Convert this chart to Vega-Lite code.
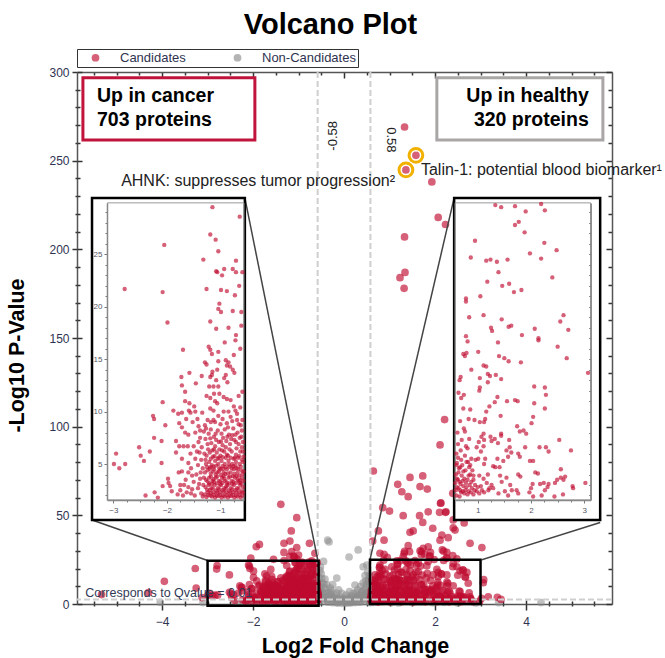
{"$schema":"https://vega.github.io/schema/vega-lite/v6.json","width":535,"height":532,"autosize":{"type":"none"},"padding":{"left":77,"top":72,"right":53,"bottom":54},"background":"white","config":{"font":"Liberation Sans","view":{"stroke":null}},"title":{"text":"Volcano Plot","fontSize":29,"fontWeight":"bold","color":"#000","anchor":"middle","dx":-14,"offset":9,"font":"Liberation Sans"},
"resolve":{"scale":{"x":"independent","y":"independent"},"axis":{"x":"independent","y":"independent"}},
"datasets":{
"grey":[{"x":-0.36,"y":36},{"x":-0.33,"y":35},{"x":0.11,"y":26.5},{"x":0.31,"y":30.5},{"x":0.42,"y":21},{"x":-0.16,"y":14.6},{"x":0.24,"y":10.7},{"x":-0.45,"y":24},{"x":-0.52,"y":21},{"x":0.5,"y":22},{"x":0.52,"y":18},{"x":0.46,"y":16},{"x":-0.5,"y":17},{"x":-0.55,"y":15},{"x":-0.42,"y":14},{"x":-0.48,"y":12},{"x":-0.38,"y":11},{"x":-0.3,"y":9},{"x":-0.25,"y":11},{"x":-0.12,"y":8},{"x":-0.05,"y":6},{"x":0.05,"y":5},{"x":0.12,"y":7},{"x":0.2,"y":6},{"x":0.3,"y":8},{"x":0.36,"y":10},{"x":0.42,"y":12},{"x":0.54,"y":14},{"x":0.5,"y":11},{"x":0.56,"y":10},{"x":0.47,"y":9},{"x":0.55,"y":7},{"x":0.4,"y":7},{"x":0.33,"y":5},{"x":0.25,"y":4},{"x":0.15,"y":3},{"x":0.08,"y":2},{"x":0,"y":3},{"x":-0.08,"y":4},{"x":-0.15,"y":3},{"x":-0.22,"y":5},{"x":-0.3,"y":6},{"x":-0.35,"y":7},{"x":-0.42,"y":9},{"x":-0.52,"y":8},{"x":-0.55,"y":10},{"x":-0.47,"y":7},{"x":-0.55,"y":6},{"x":-0.4,"y":4},{"x":-0.5,"y":4},{"x":-0.3,"y":3},{"x":-0.2,"y":2},{"x":-0.1,"y":1.5},{"x":0.02,"y":1},{"x":0.1,"y":1},{"x":0.2,"y":2},{"x":0.3,"y":2.5},{"x":0.4,"y":3},{"x":0.5,"y":4},{"x":0.55,"y":3},{"x":-0.55,"y":2},{"x":-0.45,"y":1.5},{"x":-0.35,"y":1},{"x":-0.25,"y":0.7},{"x":-0.15,"y":0.5},{"x":-0.05,"y":0.4},{"x":0.05,"y":0.4},{"x":0.15,"y":0.6},{"x":0.25,"y":0.8},{"x":0.35,"y":1},{"x":0.45,"y":1.4},{"x":0.55,"y":1.5},{"x":-0.65,"y":1},{"x":-0.8,"y":1.2},{"x":-0.95,"y":0.8},{"x":-1.1,"y":1.3},{"x":-1.25,"y":0.9},{"x":-1.4,"y":1.2},{"x":-1.55,"y":0.8},{"x":-1.7,"y":1.1},{"x":-1.85,"y":0.7},{"x":-2,"y":0.9},{"x":-2.2,"y":0.8},{"x":-2.35,"y":0.5},{"x":-3.1,"y":0.8},{"x":-4.04,"y":0.9},{"x":0.65,"y":0.9},{"x":0.85,"y":1.2},{"x":1.05,"y":0.8},{"x":1.25,"y":1.2},{"x":1.5,"y":0.8},{"x":1.7,"y":1},{"x":1.95,"y":0.7},{"x":2.2,"y":0.9},{"x":2.5,"y":0.6},{"x":2.9,"y":0.6},{"x":3.4,"y":0.7},{"x":4.33,"y":0.8},{"x":-0.28,"y":1.8},{"x":-0.18,"y":1.2},{"x":0.18,"y":1.4},{"x":0.28,"y":1.6},{"x":-0.62,"y":2.5},{"x":0.62,"y":2.5},{"x":-0.75,"y":1.8},{"x":0.75,"y":1.8},{"x":-0.38,"y":2.5},{"x":0.38,"y":2},{"x":0.46,"y":5.5},{"x":-0.46,"y":5.5},{"x":0.55,"y":5},{"x":-0.55,"y":4},{"x":-0.26,"y":4},{"x":0.28,"y":3.5},{"x":0,"y":1.8},{"x":-0.1,"y":2.6},{"x":0.1,"y":2.8},{"x":-0.53,"y":19},{"x":-0.49,"y":14.5},{"x":-0.44,"y":11},{"x":-0.56,"y":12.5},{"x":-0.51,"y":9.5},{"x":-0.4,"y":6},{"x":-0.33,"y":4.5},{"x":-0.28,"y":7.5},{"x":-0.2,"y":3.5},{"x":-0.17,"y":6.2},{"x":-0.07,"y":2.4},{"x":-0.03,"y":1.2},{"x":0.04,"y":2.5},{"x":0.09,"y":3.8},{"x":0.17,"y":4.6},{"x":0.23,"y":2.8},{"x":0.27,"y":6.5},{"x":0.35,"y":3.6},{"x":0.38,"y":5.8},{"x":0.44,"y":8},{"x":0.49,"y":6.5},{"x":0.53,"y":12.5},{"x":0.56,"y":16},{"x":0.48,"y":13},{"x":0.43,"y":4.6},{"x":0.51,"y":2.4},{"x":-0.52,"y":6},{"x":-0.44,"y":3},{"x":-0.36,"y":1.9},{"x":-0.13,"y":0.9},{"x":0.13,"y":0.9},{"x":0.33,"y":1.4},{"x":-1.3,"y":1.6},{"x":-1.6,"y":1.3},{"x":-2.1,"y":1.2},{"x":1.2,"y":0.6},{"x":1.6,"y":1.2},{"x":-0.58,"y":0.8},{"x":0.58,"y":0.8}],
"cand":[{"x":-1.15,"y":29.5},{"x":-0.64,"y":28.6},{"x":-1.19,"y":26.9},{"x":-1.09,"y":26.4},{"x":-1.04,"y":25.3},{"x":-2.05,"y":25.9},{"x":-1.32,"y":24.5},{"x":-0.71,"y":24.4},{"x":-0.93,"y":23.6},{"x":-1.08,"y":23.4},{"x":-1.06,"y":23.3},{"x":-0.77,"y":23.6},{"x":-0.71,"y":23.3},{"x":-0.59,"y":23.3},{"x":-0.97,"y":23},{"x":-0.65,"y":22},{"x":-1.26,"y":21.7},{"x":-2.79,"y":21.7},{"x":-2.08,"y":21.4},{"x":-0.99,"y":21.6},{"x":-0.88,"y":21.5},{"x":-0.73,"y":21.1},{"x":-1.02,"y":20.3},{"x":-1.04,"y":19.8},{"x":-0.99,"y":19.5},{"x":-0.77,"y":19.6},{"x":-0.61,"y":19.5},{"x":-1.99,"y":18.5},{"x":-1.19,"y":18.6},{"x":-1.08,"y":17.9},{"x":-0.85,"y":18},{"x":-0.61,"y":18.2},{"x":-0.71,"y":17.3},{"x":-0.72,"y":16.8},{"x":-0.92,"y":16.6},{"x":-1.7,"y":15.9},{"x":-1.22,"y":16.2},{"x":-1.19,"y":15.9},{"x":-1.16,"y":15.5},{"x":-1.04,"y":15.7},{"x":-0.63,"y":16},{"x":-0.75,"y":15.4},{"x":-0.9,"y":14.9},{"x":-0.85,"y":14.7},{"x":-1.29,"y":14.7},{"x":-1.26,"y":14.5},{"x":-1.04,"y":14.8},{"x":-0.88,"y":14.4},{"x":-0.82,"y":14.3},{"x":-0.77,"y":14},{"x":-0.74,"y":13.7},{"x":-1.15,"y":13.8},{"x":-1.06,"y":14},{"x":-1.16,"y":13.5},{"x":-1.35,"y":13.4},{"x":-1.58,"y":13.7},{"x":-1.73,"y":13.3},{"x":-1.19,"y":13.3},{"x":-0.9,"y":13.5},{"x":-0.93,"y":13.2},{"x":-0.87,"y":12.8},{"x":-1.08,"y":13},{"x":-1.46,"y":12.7},{"x":-1.72,"y":12.5},{"x":-1.21,"y":12.4},{"x":-1.13,"y":12.4},{"x":-1.04,"y":12.4},{"x":-1.66,"y":11.9},{"x":-0.59,"y":11.9},{"x":-0.66,"y":11.5},{"x":-1.12,"y":11.7},{"x":-1.02,"y":11.7},{"x":-0.94,"y":11.4},{"x":-1.26,"y":11.5},{"x":-1.19,"y":11.3},{"x":-1.66,"y":11},{"x":-1.58,"y":10.8},{"x":-1.49,"y":10.5},{"x":-2.08,"y":10.9},{"x":-1.1,"y":11},{"x":-1.06,"y":10.8},{"x":-0.88,"y":11.2},{"x":-0.81,"y":11.1},{"x":-1.88,"y":10.1},{"x":-1.79,"y":9.8},{"x":-1.72,"y":9.9},{"x":-1.59,"y":10.1},{"x":-1.56,"y":9.9},{"x":-1.47,"y":10},{"x":-1.34,"y":9.9},{"x":-1.19,"y":10.3},{"x":-1.13,"y":10.1},{"x":-0.94,"y":10},{"x":-0.75,"y":10.5},{"x":-0.72,"y":10.1},{"x":-0.69,"y":9.8},{"x":-0.63,"y":10.4},{"x":-2.26,"y":9.6},{"x":-2.24,"y":9.3},{"x":-2.03,"y":8.7},{"x":-1.77,"y":8.9},{"x":-1.64,"y":9.3},{"x":-1.52,"y":9},{"x":-1.43,"y":9.3},{"x":-1.72,"y":8.5},{"x":-1.66,"y":8},{"x":-1.6,"y":7.8},{"x":-1.47,"y":8},{"x":-1.41,"y":8.6},{"x":-1.29,"y":8.7},{"x":-1.27,"y":8.4},{"x":-1.13,"y":9.2},{"x":-1.1,"y":9},{"x":-0.96,"y":9.3},{"x":-0.88,"y":8.9},{"x":-0.81,"y":9.5},{"x":-0.69,"y":9.2},{"x":-0.59,"y":9.2},{"x":-2.24,"y":7.5},{"x":-2.1,"y":7.2},{"x":-2.52,"y":6.6},{"x":-2.32,"y":6.2},{"x":-2.49,"y":5.8},{"x":-2.43,"y":5.3},{"x":-2.78,"y":5},{"x":-2.1,"y":5.1},{"x":-2.95,"y":6},{"x":-2.99,"y":5},{"x":-2.89,"y":4.6},{"x":-1.83,"y":7.2},{"x":-1.77,"y":6.7},{"x":-1.69,"y":6.7},{"x":-1.61,"y":6.7},{"x":-1.5,"y":6.7},{"x":-1.83,"y":6.1},{"x":-2.4,"y":2},{"x":-2.23,"y":2.3},{"x":-2.17,"y":1.8},{"x":-2.08,"y":2.9},{"x":-1.98,"y":3.6},{"x":-1.97,"y":3.2},{"x":-1.94,"y":2.9},{"x":-1.91,"y":2.4},{"x":-1.75,"y":3},{"x":-1.78,"y":4.2},{"x":-1.72,"y":5.5},{"x":-1.6,"y":5.1},{"x":-1.72,"y":4.3},{"x":-1.65,"y":3.5},{"x":-1.6,"y":2.8},{"x":-1.55,"y":2.2},{"x":-1.7,"y":2},{"x":-1.8,"y":2.1},{"x":-1.47,"y":5.5},{"x":-1.42,"y":4.9},{"x":-1.45,"y":4},{"x":-1.5,"y":3.3},{"x":-1.42,"y":2.7},{"x":-1.48,"y":2},{"x":-1.38,"y":7.5},{"x":-1.35,"y":6.6},{"x":-1.3,"y":6},{"x":-1.36,"y":5.4},{"x":-1.33,"y":4.6},{"x":-1.38,"y":3.6},{"x":-1.32,"y":3},{"x":-1.36,"y":2.2},{"x":-1.28,"y":7.4},{"x":-1.22,"y":7.9},{"x":-1.18,"y":8.3},{"x":-1.12,"y":7.6},{"x":-1.05,"y":8.2},{"x":-0.98,"y":7.9},{"x":-0.92,"y":8.3},{"x":-0.84,"y":7.8},{"x":-0.76,"y":8.4},{"x":-0.68,"y":8},{"x":-0.6,"y":8.2},{"x":-1.24,"y":6.9},{"x":-1.17,"y":7},{"x":-1.1,"y":6.7},{"x":-1.03,"y":7.1},{"x":-0.96,"y":6.8},{"x":-0.89,"y":7.2},{"x":-0.82,"y":6.9},{"x":-0.74,"y":7.3},{"x":-0.66,"y":6.9},{"x":-0.58,"y":7.1},{"x":-1.26,"y":5.8},{"x":-1.2,"y":6.1},{"x":-1.14,"y":5.7},{"x":-1.07,"y":6.1},{"x":-1,"y":5.8},{"x":-0.93,"y":6.2},{"x":-0.86,"y":5.8},{"x":-0.79,"y":6.2},{"x":-0.71,"y":5.9},{"x":-0.63,"y":6.2},{"x":-0.57,"y":5.7},{"x":-1.27,"y":5},{"x":-1.21,"y":5.2},{"x":-1.16,"y":4.9},{"x":-1.1,"y":5.3},{"x":-1.04,"y":5},{"x":-0.98,"y":5.3},{"x":-0.92,"y":5},{"x":-0.85,"y":5.3},{"x":-0.78,"y":5},{"x":-0.71,"y":5.2},{"x":-0.64,"y":5},{"x":-0.58,"y":5.2},{"x":-1.29,"y":4.2},{"x":-1.24,"y":4.4},{"x":-1.18,"y":4.1},{"x":-1.12,"y":4.5},{"x":-1.06,"y":4.2},{"x":-1,"y":4.5},{"x":-0.94,"y":4.2},{"x":-0.88,"y":4.5},{"x":-0.81,"y":4.2},{"x":-0.75,"y":4.5},{"x":-0.68,"y":4.2},{"x":-0.61,"y":4.4},{"x":-1.27,"y":3.5},{"x":-1.21,"y":3.7},{"x":-1.15,"y":3.4},{"x":-1.09,"y":3.7},{"x":-1.03,"y":3.4},{"x":-0.97,"y":3.7},{"x":-0.91,"y":3.4},{"x":-0.85,"y":3.7},{"x":-0.79,"y":3.4},{"x":-0.73,"y":3.7},{"x":-0.66,"y":3.4},{"x":-0.6,"y":3.7},{"x":-1.28,"y":2.8},{"x":-1.22,"y":3},{"x":-1.17,"y":2.7},{"x":-1.11,"y":3},{"x":-1.05,"y":2.7},{"x":-0.99,"y":3},{"x":-0.93,"y":2.7},{"x":-0.87,"y":3},{"x":-0.81,"y":2.7},{"x":-0.75,"y":3},{"x":-0.69,"y":2.7},{"x":-0.63,"y":3},{"x":-0.58,"y":2.8},{"x":-1.3,"y":2.1},{"x":-1.24,"y":2.3},{"x":-1.19,"y":2},{"x":-1.13,"y":2.3},{"x":-1.07,"y":2},{"x":-1.01,"y":2.3},{"x":-0.95,"y":2},{"x":-0.89,"y":2.3},{"x":-0.83,"y":2},{"x":-0.77,"y":2.3},{"x":-0.71,"y":2},{"x":-0.65,"y":2.3},{"x":-0.59,"y":2},
{"x":-1.41,"y":7.1},{"x":-1.31,"y":8.1},{"x":-1.23,"y":6.4},{"x":-1.19,"y":7.45},{"x":-1.15,"y":6.3},{"x":-1.08,"y":7.3},{"x":-1.02,"y":6.4},{"x":-0.95,"y":7.5},{"x":-0.9,"y":6.6},{"x":-0.86,"y":8.5},{"x":-0.8,"y":7.4},{"x":-0.72,"y":7.8},{"x":-0.7,"y":6.5},{"x":-0.64,"y":7.5},{"x":-0.62,"y":8.7},{"x":-1.39,"y":6.1},{"x":-1.28,"y":5.4},{"x":-1.18,"y":5.5},{"x":-1.12,"y":6.4},{"x":-1.05,"y":5.5},{"x":-0.97,"y":6.3},{"x":-0.9,"y":5.6},{"x":-0.83,"y":6.4},{"x":-0.75,"y":5.5},{"x":-0.67,"y":5.6},{"x":-0.6,"y":5.4},{"x":-0.6,"y":6.6},{"x":-1.37,"y":4.2},{"x":-1.31,"y":3.7},{"x":-1.25,"y":4.7},{"x":-1.2,"y":4.55},{"x":-1.13,"y":4.75},{"x":-1.08,"y":4.85},{"x":-1.02,"y":4.6},{"x":-0.96,"y":4.8},{"x":-0.9,"y":4.7},{"x":-0.83,"y":4.75},{"x":-0.76,"y":4.8},{"x":-0.7,"y":4.6},{"x":-0.62,"y":4.75},{"x":-0.57,"y":4.3},{"x":-1.24,"y":3.35},{"x":-1.18,"y":3.8},{"x":-1.12,"y":3.3},{"x":-1.06,"y":3.8},{"x":-1,"y":3.35},{"x":-0.94,"y":3.85},{"x":-0.88,"y":3.25},{"x":-0.82,"y":3.8},{"x":-0.76,"y":3.3},{"x":-0.7,"y":3.85},{"x":-0.63,"y":3.45},{"x":-0.57,"y":3.4},{"x":-1.25,"y":2.55},{"x":-1.2,"y":2.5},{"x":-1.14,"y":2.65},{"x":-1.08,"y":2.45},{"x":-1.02,"y":2.6},{"x":-0.96,"y":2.5},{"x":-0.9,"y":2.65},{"x":-0.84,"y":2.45},{"x":-0.78,"y":2.6},{"x":-0.72,"y":2.5},{"x":-0.66,"y":2.65},{"x":-0.6,"y":2.4},{"x":-1.33,"y":1.9},{"x":-1.26,"y":1.85},{"x":-1.16,"y":1.9},{"x":-1.1,"y":1.8},{"x":-1.04,"y":1.95},{"x":-0.98,"y":1.8},{"x":-0.92,"y":1.9},{"x":-0.86,"y":1.8},{"x":-0.8,"y":1.95},{"x":-0.74,"y":1.8},{"x":-0.68,"y":1.9},{"x":-0.62,"y":1.8},{"x":-1.55,"y":4.6},{"x":-1.56,"y":6},{"x":-1.53,"y":3.9},{"x":-1.6,"y":4.2},{"x":-1.44,"y":6.2},{"x":-1.4,"y":3.1},{"x":-1.53,"y":2.6},{"x":-1.63,"y":2.3},{"x":-1.75,"y":2.5},{"x":-1.68,"y":3},{"x":-1.04,"y":9.6},{"x":-1,"y":8.8},{"x":-0.85,"y":10},{"x":-0.78,"y":9.1},{"x":-0.66,"y":8.8},{"x":-1.18,"y":9},{"x":-1.24,"y":9.2},{"x":-1.38,"y":8.2},
{"x":-1.19,"y":4.7},{"x":-1.14,"y":4.3},{"x":-1.09,"y":4.0},{"x":-1.03,"y":4.3},{"x":-0.99,"y":3.95},{"x":-0.95,"y":4.55},{"x":-0.91,"y":4.05},{"x":-0.86,"y":4.1},{"x":-0.84,"y":4.95},{"x":-0.79,"y":4.6},{"x":-0.74,"y":4.05},{"x":-0.72,"y":4.85},{"x":-0.67,"y":4.55},{"x":-0.65,"y":3.9},{"x":-0.59,"y":4.05},{"x":-1.21,"y":3.15},{"x":-1.16,"y":3.1},{"x":-1.13,"y":3.55},{"x":-1.07,"y":3.15},{"x":-1.01,"y":3.05},{"x":-0.96,"y":3.2},{"x":-0.93,"y":3.6},{"x":-0.89,"y":2.9},{"x":-0.84,"y":3.15},{"x":-0.78,"y":3.1},{"x":-0.77,"y":3.85},{"x":-0.71,"y":3.2},{"x":-0.68,"y":3.55},{"x":-0.64,"y":3.2},{"x":-0.61,"y":3.15},{"x":-1.23,"y":2.05},{"x":-1.18,"y":2.25},{"x":-1.12,"y":2.05},{"x":-1.06,"y":2.3},{"x":-1,"y":2.05},{"x":-0.94,"y":2.35},{"x":-0.88,"y":2.05},{"x":-0.82,"y":2.3},{"x":-0.76,"y":2.05},{"x":-0.7,"y":2.3},{"x":-0.64,"y":2.05},{"x":-0.58,"y":2.3},{"x":-1.11,"y":5.75},{"x":-1.03,"y":5.6},{"x":-0.96,"y":5.65},{"x":-0.88,"y":5.9},{"x":-0.81,"y":5.6},{"x":-0.73,"y":5.6},{"x":-0.65,"y":5.75},{"x":-0.58,"y":6.2},{"x":-1.09,"y":7.9},{"x":-0.99,"y":7.15},{"x":-0.87,"y":7.6},{"x":-0.78,"y":7.75},{"x":-0.71,"y":7.1},{"x":-0.61,"y":7.6},
{"x":1.33,"y":29.7},{"x":1.44,"y":29.5},{"x":1.7,"y":29.6},{"x":1.9,"y":29.1},{"x":2.19,"y":29.8},{"x":2.26,"y":29.2},{"x":1.7,"y":27.8},{"x":1.77,"y":28.1},{"x":1.88,"y":27.1},{"x":0.95,"y":26.3},{"x":2.25,"y":26.1},{"x":1.98,"y":25.1},{"x":2.48,"y":25.4},{"x":0.87,"y":24.7},{"x":1.16,"y":24.4},{"x":1.24,"y":24.5},{"x":1.36,"y":24.3},{"x":1.56,"y":24.5},{"x":2.19,"y":24.6},{"x":1.39,"y":23.3},{"x":2.4,"y":22.8},{"x":1.18,"y":22.4},{"x":1.59,"y":22.2},{"x":1.46,"y":22},{"x":1.82,"y":21.6},{"x":1.68,"y":21.4},{"x":1.05,"y":21},{"x":0.78,"y":20.8},{"x":0.78,"y":20.5},{"x":1.11,"y":19.2},{"x":0.84,"y":19},{"x":1.45,"y":18.8},{"x":2.61,"y":19.2},{"x":2.55,"y":18.6},{"x":2.7,"y":17.8},{"x":1.63,"y":18.2},{"x":1.58,"y":18.1},{"x":1.25,"y":18},{"x":1.27,"y":17.7},{"x":2.07,"y":17.9},{"x":1.83,"y":17.3},{"x":2.14,"y":17},{"x":2.14,"y":16.8},{"x":0.78,"y":17.2},{"x":0.81,"y":16.7},{"x":1.38,"y":16.6},{"x":2.5,"y":16.2},{"x":0.73,"y":15.5},{"x":0.79,"y":15.6},{"x":0.76,"y":15.3},{"x":1.01,"y":15.7},{"x":1.4,"y":15.3},{"x":1.5,"y":15.1},{"x":1.58,"y":14.8},{"x":1.81,"y":14.7},{"x":2.67,"y":15.1},{"x":1.11,"y":14.4},{"x":1.16,"y":14.3},{"x":0.88,"y":14},{"x":1.19,"y":13.6},{"x":1.23,"y":13.4},{"x":1.34,"y":13.5},{"x":1.44,"y":13.1},{"x":1.04,"y":13.2},{"x":0.68,"y":13.3},{"x":0.66,"y":13},{"x":1.19,"y":12.8},{"x":3.07,"y":13.7},{"x":2.06,"y":12.4},{"x":2.26,"y":12.3},{"x":1.04,"y":12.3},{"x":1.03,"y":12},{"x":0.64,"y":11.8},{"x":0.74,"y":11.6},{"x":0.69,"y":11.3},{"x":2.28,"y":11.6},{"x":1.37,"y":11.4},{"x":1.55,"y":11},{"x":1.7,"y":11.1},{"x":1.75,"y":11},{"x":2.06,"y":10.8},{"x":1.32,"y":10.9},{"x":1.22,"y":10.5},{"x":0.73,"y":10.3},{"x":0.86,"y":10.2},{"x":2.26,"y":10.3},{"x":1.16,"y":10},{"x":1.43,"y":9.6},{"x":2.04,"y":9.5},{"x":0.83,"y":9.3},{"x":0.67,"y":9.1},{"x":0.94,"y":9.2},{"x":1.04,"y":9},{"x":1.14,"y":9.3},{"x":1.12,"y":9},{"x":2.01,"y":8.9},{"x":1.74,"y":8.6},{"x":0.74,"y":8.4},{"x":0.76,"y":8.1},{"x":1.79,"y":8.1},{"x":1.86,"y":8.2},{"x":1.91,"y":7.9},{"x":1.11,"y":7.9},{"x":1.07,"y":7.6},{"x":1.44,"y":7.9},{"x":1.44,"y":7.7},{"x":1.24,"y":7.6},{"x":1.32,"y":7.4},{"x":0.84,"y":7.4},{"x":1.26,"y":7.2},{"x":1.12,"y":7.3},{"x":1.38,"y":7},{"x":1.59,"y":7.3},{"x":1.02,"y":7.1},{"x":1.11,"y":6.7},{"x":2.53,"y":7.3},{"x":0.98,"y":6.6},{"x":0.81,"y":6.5},{"x":0.68,"y":6.3},{"x":0.78,"y":6.7},{"x":1.89,"y":6.6},{"x":1.6,"y":6.6},{"x":1.54,"y":6.3},{"x":2.16,"y":6.6},{"x":2.28,"y":6.6},{"x":2.33,"y":6.2},{"x":2.75,"y":6.3},{"x":1.76,"y":6},{"x":1.79,"y":5.7},{"x":1.63,"y":6.1},{"x":1.57,"y":5.7},{"x":1.37,"y":5.5},{"x":1.48,"y":5.3},{"x":1.98,"y":5.3},{"x":2.04,"y":5.3},{"x":1.01,"y":5.5},{"x":1.14,"y":5.5},{"x":1.06,"y":6.2},{"x":0.96,"y":5.4},{"x":1.12,"y":5},{"x":1.33,"y":4.7},{"x":1.29,"y":4.8},{"x":1.41,"y":4.7},{"x":2.56,"y":4.5},{"x":2.08,"y":4.2},{"x":2.13,"y":4.1},{"x":1.76,"y":4},{"x":1.8,"y":3.8},{"x":1.19,"y":4},{"x":1.42,"y":3.9},{"x":1.54,"y":3.7},{"x":2.64,"y":3.8},{"x":2.56,"y":3.7},{"x":2.49,"y":3.5},{"x":2.45,"y":3.2},{"x":2.61,"y":3.5},{"x":2.17,"y":3.1},{"x":2.24,"y":3.2},{"x":2.33,"y":3.1},{"x":2.31,"y":2.8},{"x":2.26,"y":2.5},{"x":2.03,"y":3.1},{"x":2,"y":2.7},{"x":1.97,"y":2.3},{"x":2.78,"y":2.9},{"x":2.79,"y":2.7},{"x":3.02,"y":3.2},{"x":2.44,"y":1.9},{"x":2.6,"y":2.1},{"x":2.2,"y":2},{"x":2.04,"y":1.9},{"x":1.73,"y":2.5},{"x":1.76,"y":2.2},{"x":1.61,"y":3},{"x":1.64,"y":2.5},{"x":1.45,"y":3.3},{"x":1.51,"y":2.4},{"x":1.57,"y":2},{"x":1.39,"y":2.2},{"x":1.26,"y":3},{"x":1.29,"y":2.7},{"x":1.22,"y":2.7},{"x":1.17,"y":3.2},{"x":1.2,"y":2.5},{"x":1.08,"y":2.5},{"x":0.95,"y":3},{"x":0.92,"y":3.5},{"x":0.86,"y":4},{"x":0.92,"y":3.9},{"x":1.03,"y":3.9},{"x":1.11,"y":3.6},{"x":0.6,"y":6},{"x":0.63,"y":5.6},{"x":0.69,"y":5.4},{"x":0.76,"y":5.8},{"x":0.82,"y":5.2},{"x":0.88,"y":5.5},{"x":0.6,"y":4.9},{"x":0.65,"y":4.6},{"x":0.71,"y":4.9},{"x":0.77,"y":4.4},{"x":0.84,"y":4.7},{"x":0.59,"y":4},{"x":0.64,"y":4.2},{"x":0.7,"y":3.9},{"x":0.75,"y":3.6},{"x":0.81,"y":3.5},{"x":0.58,"y":3.2},{"x":0.63,"y":3.5},{"x":0.68,"y":3.1},{"x":0.73,"y":2.9},{"x":0.79,"y":2.8},{"x":0.85,"y":3},{"x":0.59,"y":2.5},{"x":0.64,"y":2.7},{"x":0.69,"y":2.3},{"x":0.75,"y":2.2},{"x":0.81,"y":2.1},{"x":0.87,"y":2.3},{"x":0.92,"y":2.1},{"x":0.98,"y":2.4},{"x":1.03,"y":2.2},{"x":0.6,"y":2},{"x":0.66,"y":1.9},
{"x":0.61,"y":5.1},{"x":0.67,"y":4.7},{"x":0.73,"y":4.3},{"x":0.79,"y":5.2},{"x":0.86,"y":4.9},{"x":0.9,"y":4.4},{"x":0.61,"y":3.6},{"x":0.66,"y":3.3},{"x":0.72,"y":3.4},{"x":0.78,"y":3.2},{"x":0.83,"y":3.9},{"x":0.88,"y":3.3},{"x":0.61,"y":2.8},{"x":0.67,"y":2.5},{"x":0.72,"y":2.4},{"x":0.77,"y":2.5},{"x":0.83,"y":2.4},{"x":0.89,"y":2.7},{"x":0.94,"y":2.5},{"x":1,"y":2.8},{"x":1.06,"y":2.9},{"x":1.12,"y":2.3},{"x":0.63,"y":6.9},{"x":0.7,"y":7.3},{"x":0.62,"y":8}],
"extra":[{"x":1.33,"y":269},{"x":1.58,"y":253},{"x":1.36,"y":244.8},{"x":1.93,"y":238},{"x":2.07,"y":218},{"x":2.23,"y":214},{"x":1.33,"y":207},{"x":1.23,"y":184},{"x":1.34,"y":187},{"x":1.32,"y":178},{"x":2.21,"y":104},{"x":2.11,"y":89.7},{"x":2.39,"y":62.4},{"x":2.13,"y":57},{"x":2.24,"y":52},{"x":2.4,"y":47.4},{"x":2.64,"y":45.7},{"x":2.4,"y":42.9},{"x":0.645,"y":75},{"x":1.18,"y":67.5},{"x":1.27,"y":63.3},{"x":1.41,"y":60.5},{"x":1.45,"y":71.4},{"x":1.73,"y":72.2},{"x":1.67,"y":66.2},{"x":1.83,"y":64.8},{"x":0.85,"y":54.3},{"x":1,"y":52.4},{"x":1.3,"y":49.8},{"x":1.66,"y":49.8},{"x":1.73,"y":46},{"x":1.85,"y":52},{"x":2.1,"y":51.7},{"x":2.23,"y":51.7},{"x":2.12,"y":56.8},{"x":2.44,"y":41.7},{"x":1.95,"y":42.7},{"x":1.52,"y":41.2},{"x":1.45,"y":40.4},{"x":0.755,"y":41.2},{"x":0.88,"y":36},{"x":2.15,"y":38.9},{"x":2.29,"y":37.4},{"x":2.11,"y":36},{"x":2.77,"y":34.2},{"x":3.03,"y":31.8},{"x":1.41,"y":32.9},{"x":1.85,"y":32.3},{"x":1.74,"y":31.4},{"x":1.67,"y":30},{"x":2.16,"y":30.5},{"x":0.79,"y":28.6},{"x":0.88,"y":28},{"x":1.32,"y":28.6},{"x":1.3,"y":26.7},{"x":1.89,"y":26.7},{"x":2.39,"y":27.3},{"x":2.26,"y":25.8},{"x":0.63,"y":35.5},{"x":3.06,"y":12},{"x":3.17,"y":4.1},{"x":3.37,"y":3.8},{"x":3.45,"y":2.6},{"x":2.77,"y":4.1},{"x":2.55,"y":7},{"x":2.66,"y":15.4},{"x":2.73,"y":11.7},{"x":2.62,"y":19},{"x":2.48,"y":21},{"x":2.39,"y":21},{"x":2.26,"y":16.4},{"x":2.07,"y":15.4},{"x":2.04,"y":19.5},{"x":1.85,"y":23.9},{"x":1.63,"y":23},{"x":1.41,"y":23},{"x":1.17,"y":22.6},{"x":0.79,"y":22},{"x":-1.39,"y":56.2},{"x":-1.04,"y":48.7},{"x":-1.16,"y":41.2},{"x":-1.19,"y":35.5},{"x":-1.32,"y":34.2},{"x":-1.86,"y":33.6},{"x":-1.93,"y":32.3},{"x":-0.76,"y":34.2},{"x":-1.04,"y":31.8},{"x":-1.32,"y":29.1},{"x":-1,"y":27.6},{"x":-1.55,"y":25.2},{"x":-1.11,"y":27},{"x":-2.1,"y":22},{"x":-2.07,"y":20},{"x":-3.27,"y":20},{"x":-2.8,"y":19.7},{"x":-2.52,"y":16.4},{"x":-1.99,"y":15},{"x":-1.61,"y":19.5},{"x":-1.74,"y":17},{"x":-1.92,"y":13},{"x":-2.29,"y":10.2},{"x":-3.95,"y":12.8},{"x":-3.25,"y":9},{"x":-4.3,"y":6.4},{"x":-5.33,"y":5.3},{"x":-3.12,"y":3.6},{"x":-2.84,"y":5},{"x":-2.47,"y":3.6},{"x":-2.03,"y":8.6},{"x":-1.59,"y":15.4},{"x":-1.86,"y":10.7},
{"x":-0.62,"y":1.5},{"x":-0.75,"y":1.2},{"x":-0.88,"y":1.7},{"x":-1,"y":1.3},{"x":-1.13,"y":1.6},{"x":-1.26,"y":1.1},{"x":-1.4,"y":1.6},{"x":-1.52,"y":1.2},{"x":-1.66,"y":1.7},{"x":-1.79,"y":1.3},{"x":-1.92,"y":1.6},{"x":-2.03,"y":1.4},{"x":-2.15,"y":1.7},{"x":-0.58,"y":4.6},{"x":-0.7,"y":4.2},{"x":-0.83,"y":4.8},{"x":-0.97,"y":4.3},{"x":-1.1,"y":4.7},{"x":-1.22,"y":4.4},{"x":-1.35,"y":4.8},{"x":-1.48,"y":4.2},{"x":-1.6,"y":4.7},{"x":-1.73,"y":4.5},{"x":-1.86,"y":4},{"x":-1.99,"y":4.4},{"x":-2.1,"y":3.9},{"x":-0.64,"y":7.6},{"x":-0.77,"y":7.2},{"x":-0.9,"y":7.8},{"x":-1.03,"y":7.3},{"x":-1.16,"y":7.7},{"x":-1.29,"y":7.1},{"x":-1.42,"y":7.6},{"x":-1.55,"y":7.2},{"x":-1.68,"y":7.3},{"x":-1.81,"y":6.6},{"x":-1.93,"y":6.2},{"x":-0.6,"y":10.7},{"x":-0.72,"y":10.2},{"x":-0.85,"y":10.8},{"x":-0.98,"y":10.3},{"x":-1.11,"y":10.7},{"x":-1.24,"y":10.3},{"x":-1.37,"y":10.8},{"x":-1.5,"y":10.1},{"x":-1.63,"y":9.8},{"x":-1.76,"y":9.2},{"x":-0.66,"y":13.7},{"x":-0.79,"y":13.1},{"x":-0.92,"y":13.8},{"x":-1.05,"y":13.2},{"x":-1.18,"y":13.6},{"x":-1.31,"y":13},{"x":-1.44,"y":12.5},{"x":-1.57,"y":11.8},{"x":-0.61,"y":16.7},{"x":-0.74,"y":16.2},{"x":-0.87,"y":16.8},{"x":-1,"y":16.2},{"x":-1.13,"y":16.6},{"x":-1.26,"y":15.7},{"x":-1.39,"y":14.8},{"x":-0.68,"y":19.7},{"x":-0.81,"y":19.2},{"x":-0.94,"y":19.8},{"x":-1.07,"y":19},{"x":-1.2,"y":18.2},{"x":-0.62,"y":22.6},{"x":-0.75,"y":22.2},{"x":-0.88,"y":23},
{"x":0.62,"y":1.4},{"x":0.75,"y":1.1},{"x":0.88,"y":1.6},{"x":1.01,"y":1.2},{"x":1.14,"y":1.7},{"x":1.27,"y":1.3},{"x":1.4,"y":1.6},{"x":1.53,"y":1.2},{"x":1.66,"y":1.7},{"x":1.79,"y":1.2},{"x":1.92,"y":1.6},{"x":2.05,"y":1.3},{"x":2.18,"y":1.7},{"x":2.31,"y":1.2},{"x":2.44,"y":1.6},{"x":2.57,"y":1.3},{"x":2.7,"y":1.7},{"x":2.84,"y":1.3},{"x":2.98,"y":1.6},{"x":0.66,"y":4.7},{"x":0.8,"y":4.2},{"x":0.93,"y":4.8},{"x":1.06,"y":4.3},{"x":1.19,"y":4.7},{"x":1.32,"y":4.2},{"x":1.45,"y":4.6},{"x":1.58,"y":4.3},{"x":1.71,"y":4.8},{"x":1.84,"y":4.2},{"x":1.97,"y":4.6},{"x":2.1,"y":4.4},{"x":2.23,"y":4.7},{"x":2.36,"y":4.2},{"x":2.49,"y":4.5},{"x":2.62,"y":4.2},{"x":0.6,"y":7.6},{"x":0.73,"y":7.2},{"x":0.87,"y":7.7},{"x":1,"y":7.2},{"x":1.13,"y":7.6},{"x":1.26,"y":7.2},{"x":1.39,"y":7.7},{"x":1.52,"y":7.3},{"x":1.65,"y":7.6},{"x":1.78,"y":7.2},{"x":1.91,"y":7.5},{"x":2.04,"y":7.3},{"x":2.18,"y":7.7},{"x":2.31,"y":7.3},{"x":0.65,"y":10.6},{"x":0.79,"y":10.2},{"x":0.92,"y":10.8},{"x":1.05,"y":10.3},{"x":1.18,"y":10.7},{"x":1.31,"y":10.3},{"x":1.44,"y":10.8},{"x":1.57,"y":10.2},{"x":1.7,"y":10.6},{"x":1.95,"y":10.3},{"x":2.12,"y":10.5},{"x":2.4,"y":10.3},{"x":0.62,"y":13.6},{"x":0.75,"y":13.2},{"x":0.88,"y":13.8},{"x":1.01,"y":13.2},{"x":1.14,"y":13.6},{"x":1.27,"y":13.1},{"x":1.4,"y":13.6},{"x":1.53,"y":13.2},{"x":1.66,"y":13.7},{"x":1.9,"y":13.3},{"x":0.68,"y":16.5},{"x":0.92,"y":16.8},{"x":1.08,"y":16.4},{"x":1.2,"y":16.7},{"x":1.52,"y":16.5},{"x":1.72,"y":16.3},{"x":1.96,"y":16.4},{"x":0.9,"y":19.5},{"x":1.18,"y":19.8},{"x":1.36,"y":19.4}],
"boxes":[{"x":-3,"x2":-0.56,"y":24.4,"y2":-1},{"x":0.57,"x2":3.0,"y":25,"y2":0}],
"links":[{"x":-2.18,"y":229,"x2":-0.58,"y2":25},{"x":-5.54,"y":47.4,"x2":-3,"y2":24.5},{"x":2.42,"y":229,"x2":0.57,"y2":25},{"x":5.63,"y":46,"x2":3.03,"y2":25}],
"frames":[{"x":-5.54,"x2":-2.18,"y":229,"y2":47.4},{"x":2.42,"x2":5.63,"y":229,"y2":47.4}],
"inner":[{"x":-5.2,"x2":-2.2,"y":226.2,"y2":58.7},{"x":2.44,"x2":5.42,"y":226.2,"y2":58.7}]
},
"layer":[
{"data":{"name":"grey"},"mark":{"type":"circle","size":59,"opacity":0.55},"encoding":{
"x":{"field":"x","type":"quantitative","scale":{"domain":[-5.87,5.89]},"axis":{"orient":"bottom","title":"Log2 Fold Change","titleFontSize":21.5,"titleFontWeight":"bold","titleColor":"#000","titleX":278,"titleY":48,"titleAnchor":"middle","titleBaseline":"alphabetic","values":[-5.5,-5,-4.5,-4,-3.5,-3,-2.5,-2,-1.5,-1,-0.5,0,0.5,1,1.5,2,2.5,3,3.5,4,4.5,5,5.5],"labelExpr":"datum.value%2==0?format(datum.value,'d'):''","tickSize":{"condition":{"test":"datum.value%2==0","value":6},"value":2},"tickColor":"#333","tickWidth":1.5,"domainColor":"#555","domainWidth":1.5,"labelFontSize":12,"labelColor":"#2f3350","labelPadding":6,"labelOverlap":false,"grid":false}},
"y":{"field":"y","type":"quantitative","scale":{"domain":[0,300]},"axis":{"orient":"left","title":"-Log10 P-Value","titleFontSize":21.5,"titleFontWeight":"bold","titleColor":"#000","titleX":-54,"titleY":283,"titleAngle":-90,"titleAnchor":"middle","titleBaseline":"alphabetic","values":[0,10,20,30,40,50,60,70,80,90,100,110,120,130,140,150,160,170,180,190,200,210,220,230,240,250,260,270,280,290,300],"labelExpr":"datum.value%50==0?datum.label:''","tickSize":{"condition":{"test":"datum.value%50==0","value":5},"value":2},"tickColor":"#333","tickWidth":1.5,"domainColor":"#555","domainWidth":1.5,"labelFontSize":12,"labelColor":"#2f3350","labelPadding":3,"labelOverlap":false,"grid":false}},
"color":{"datum":"Non-Candidates","type":"nominal","scale":{"domain":["Candidates","Non-Candidates"],"range":["#bf0a30","#8c8c8c"]},"legend":{"orient":"none","legendX":0,"legendY":-23,"direction":"horizontal","columns":2,"title":null,"symbolSize":60,"symbolOpacity":0.6,"labelFontSize":13,"labelColor":"#2f3350","strokeColor":"#333","padding":2,"symbolOffset":10,"labelOffset":18,"columnPadding":35,"rowPadding":0}}}},
{"data":{"name":"cand"},"mark":{"type":"circle","size":59,"opacity":0.65},"encoding":{
"x":{"field":"x","type":"quantitative","scale":{"domain":[-5.87,5.89]},"axis":{"orient":"bottom","title":null,"values":[-5.5,-5,-4.5,-4,-3.5,-3,-2.5,-2,-1.5,-1,-0.5,0,0.5,1,1.5,2,2.5,3,3.5,4,4.5,5,5.5],"labels":false,"domain":false,"tickSize":{"condition":{"test":"datum.value%2==0","value":-4},"value":-3},"tickColor":"#333","tickWidth":1.5,"grid":false}},
"y":{"field":"y","type":"quantitative","scale":{"domain":[0,300]},"axis":{"orient":"left","title":null,"values":[0,10,20,30,40,50,60,70,80,90,100,110,120,130,140,150,160,170,180,190,200,210,220,230,240,250,260,270,280,290,300],"labels":false,"domain":false,"tickSize":{"condition":{"test":"datum.value%50==0","value":-5},"value":-3},"tickColor":"#333","tickWidth":1.5,"grid":false}},
"color":{"datum":"Candidates","type":"nominal"}}},
{"data":{"name":"extra"},"mark":{"type":"circle","size":59,"opacity":0.65},"encoding":{
"x":{"field":"x","type":"quantitative","scale":{"domain":[-5.87,5.89]},"axis":{"orient":"top","title":null,"values":[-5.5,-5,-4.5,-4,-3.5,-3,-2.5,-2,-1.5,-1,-0.5,0,0.5,1,1.5,2,2.5,3,3.5,4,4.5,5,5.5],"labels":false,"domainColor":"#555","domainWidth":1.5,"tickSize":{"condition":{"test":"datum.value%2==0","value":-6},"value":-3},"tickColor":"#333","tickWidth":1.5,"grid":false}},
"y":{"field":"y","type":"quantitative","scale":{"domain":[0,300]},"axis":{"orient":"right","title":null,"values":[0,10,20,30,40,50,60,70,80,90,100,110,120,130,140,150,160,170,180,190,200,210,220,230,240,250,260,270,280,290,300],"labels":false,"domainColor":"#555","domainWidth":1.5,"tickSize":{"condition":{"test":"datum.value%50==0","value":-6},"value":-4},"tickColor":"#333","tickWidth":1.5,"grid":false}},
"color":{"datum":"Candidates","type":"nominal"}}},
{"data":{"values":[{"x":1.58,"y":253},{"x":1.36,"y":244.8}]},"mark":{"type":"point","filled":false,"size":190,"strokeWidth":3,"color":"#f2b100","opacity":1},"encoding":{"x":{"field":"x","type":"quantitative","scale":{"domain":[-5.87,5.89]},"axis":null},"y":{"field":"y","type":"quantitative","scale":{"domain":[0,300]},"axis":null}}},
{"data":{"values":[{"x":-0.58},{"x":0.58}]},"mark":{"type":"rule","color":"#cfcfcf","strokeWidth":2,"strokeDash":[6,3]},"encoding":{"x":{"field":"x","type":"quantitative","scale":{"domain":[-5.87,5.89]},"axis":null}}},
{"data":{"values":[{"y":2.6}]},"mark":{"type":"rule","color":"#cfcfcf","strokeWidth":2,"strokeDash":[6,3]},"encoding":{"y":{"field":"y","type":"quantitative","scale":{"domain":[0,300]},"axis":null}}},
{"data":{"name":"links"},"mark":{"type":"rule","color":"#444","strokeWidth":1.5},"encoding":{"x":{"field":"x","type":"quantitative","scale":{"domain":[-5.87,5.89]},"axis":null},"y":{"field":"y","type":"quantitative","scale":{"domain":[0,300]},"axis":null},"x2":{"field":"x2"},"y2":{"field":"y2"}}},
{"data":{"name":"boxes"},"mark":{"type":"rect","fillOpacity":0,"stroke":"#000","strokeWidth":2.5},"encoding":{"x":{"field":"x","type":"quantitative","scale":{"domain":[-5.87,5.89]},"axis":null},"y":{"field":"y","type":"quantitative","scale":{"domain":[0,300]},"axis":null},"x2":{"field":"x2"},"y2":{"field":"y2"}}},
{"data":{"name":"frames"},"mark":{"type":"rect","fill":"white","stroke":"#000","strokeWidth":2.5},"encoding":{"x":{"field":"x","type":"quantitative","scale":{"domain":[-5.87,5.89]},"axis":null},"y":{"field":"y","type":"quantitative","scale":{"domain":[0,300]},"axis":null},"x2":{"field":"x2"},"y2":{"field":"y2"}}},
{"data":{"name":"inner"},"mark":{"type":"rect","fillOpacity":0,"stroke":"#999","strokeWidth":1},"encoding":{"x":{"field":"x","type":"quantitative","scale":{"domain":[-5.87,5.89]},"axis":null},"y":{"field":"y","type":"quantitative","scale":{"domain":[0,300]},"axis":null},"x2":{"field":"x2"},"y2":{"field":"y2"}}},
{"data":{"name":"cand"},"transform":[{"filter":"datum.x<-0.56&&datum.x>-3.12&&datum.y<29.9"}],"mark":{"type":"circle","size":19,"opacity":0.65,"color":"#bf0a30"},"encoding":{
"x":{"field":"x","type":"quantitative","scale":{"domain":[-3.12,-0.56],"range":[30,167]},"axis":{"zindex":1,"orient":"bottom","offset":-104,"title":null,"values":[-3,-2.75,-2.5,-2.25,-2,-1.75,-1.5,-1.25,-1,-0.75],"labelExpr":"datum.value%1==0?format(datum.value,'d'):''","tickSize":{"condition":{"test":"datum.value%1==0","value":3},"value":2},"tickColor":"#777","domainColor":"#888","domainWidth":1.5,"labelFontSize":8,"labelColor":"#556","labelPadding":3,"labelOverlap":false,"grid":false}},
"y":{"field":"y","type":"quantitative","scale":{"domain":[1.57,29.9],"range":[428,131]},"axis":{"zindex":1,"orient":"left","offset":-30,"title":null,"values":[2,3,4,5,6,7,8,9,10,11,12,13,14,15,16,17,18,19,20,21,22,23,24,25,26,27,28,29],"labelExpr":"datum.value%5==0?datum.label:''","tickSize":{"condition":{"test":"datum.value%5==0","value":3},"value":2},"tickColor":"#777","domainColor":"#888","domainWidth":1.5,"labelFontSize":8,"labelColor":"#556","labelPadding":2,"labelOverlap":false,"grid":false}}}},
{"data":{"name":"cand"},"transform":[{"filter":"datum.x>0.574&&datum.x<3.12&&datum.y<29.9"}],"mark":{"type":"circle","size":19,"opacity":0.65,"color":"#bf0a30"},"encoding":{
"x":{"field":"x","type":"quantitative","scale":{"domain":[0.574,3.12],"range":[378,513.7]},"axis":{"zindex":1,"orient":"bottom","offset":-104,"title":null,"values":[0.75,1,1.25,1.5,1.75,2,2.25,2.5,2.75,3],"labelExpr":"datum.value%1==0?format(datum.value,'d'):''","tickSize":{"condition":{"test":"datum.value%1==0","value":3},"value":2},"tickColor":"#777","domainColor":"#888","domainWidth":1.5,"labelFontSize":8,"labelColor":"#556","labelPadding":3,"labelOverlap":false,"grid":false}},
"y":{"field":"y","type":"quantitative","scale":{"domain":[1.57,29.9],"range":[428,131]},"axis":{"zindex":1,"orient":"right","offset":-21.3,"title":null,"values":[2,3,4,5,6,7,8,9,10,11,12,13,14,15,16,17,18,19,20,21,22,23,24,25,26,27,28,29],"labels":false,"tickSize":-2,"tickColor":"#777","domainColor":"#888","domainWidth":1.5,"grid":false}}}},
{"data":{"values":[{"x":-5.74,"x2":-1.96,"y":296.7,"y2":261.7}]},"mark":{"type":"rect","fill":"white","stroke":"#c0143c","strokeWidth":3},"encoding":{"x":{"field":"x","type":"quantitative","scale":{"domain":[-5.87,5.89]},"axis":null},"y":{"field":"y","type":"quantitative","scale":{"domain":[0,300]},"axis":null},"x2":{"field":"x2"},"y2":{"field":"y2"}}},
{"data":{"values":[{"x":2.04,"x2":5.69,"y":296.7,"y2":261.7}]},"mark":{"type":"rect","fill":"white","stroke":"#aaa6a6","strokeWidth":3},"encoding":{"x":{"field":"x","type":"quantitative","scale":{"domain":[-5.87,5.89]},"axis":null},"y":{"field":"y","type":"quantitative","scale":{"domain":[0,300]},"axis":null},"x2":{"field":"x2"},"y2":{"field":"y2"}}},
{"data":{"values":[{"x":-5.43,"y":282.9,"t":"Up in cancer"},{"x":-5.43,"y":269.3,"t":"703 proteins"}]},"mark":{"type":"text","font":"Liberation Sans","align":"left","baseline":"alphabetic","fontSize":19.5,"fontWeight":"bold","color":"#000"},"encoding":{"x":{"field":"x","type":"quantitative","scale":{"domain":[-5.87,5.89]},"axis":null},"y":{"field":"y","type":"quantitative","scale":{"domain":[0,300]},"axis":null},"text":{"field":"t"}}},
{"data":{"values":[{"x":5.38,"y":282.9,"t":"Up in healthy"},{"x":5.38,"y":269.3,"t":"320 proteins"}]},"mark":{"type":"text","font":"Liberation Sans","align":"right","baseline":"alphabetic","fontSize":19.5,"fontWeight":"bold","color":"#000"},"encoding":{"x":{"field":"x","type":"quantitative","scale":{"domain":[-5.87,5.89]},"axis":null},"y":{"field":"y","type":"quantitative","scale":{"domain":[0,300]},"axis":null},"text":{"field":"t"}}},
{"data":{"values":[{"x":-4.9,"y":235.8,"t":"AHNK: suppresses tumor progression²"},{"x":1.69,"y":242,"t":"Talin-1: potential blood biomarker¹"}]},"mark":{"type":"text","font":"Liberation Sans","align":"left","baseline":"alphabetic","fontSize":16,"color":"#222"},"encoding":{"x":{"field":"x","type":"quantitative","scale":{"domain":[-5.87,5.89]},"axis":null},"y":{"field":"y","type":"quantitative","scale":{"domain":[0,300]},"axis":null},"text":{"field":"t"}}},
{"data":{"values":[{"x":-0.25,"y":264,"t":"-0.58"}]},"mark":{"type":"text","font":"Liberation Sans","angle":270,"align":"center","baseline":"middle","fontSize":13,"color":"#222"},"encoding":{"x":{"field":"x","type":"quantitative","scale":{"domain":[-5.87,5.89]},"axis":null},"y":{"field":"y","type":"quantitative","scale":{"domain":[0,300]},"axis":null},"text":{"field":"t"}}},
{"data":{"values":[{"x":1.03,"y":261.7,"t":"0.58"}]},"mark":{"type":"text","font":"Liberation Sans","angle":90,"align":"center","baseline":"middle","fontSize":13,"color":"#222"},"encoding":{"x":{"field":"x","type":"quantitative","scale":{"domain":[-5.87,5.89]},"axis":null},"y":{"field":"y","type":"quantitative","scale":{"domain":[0,300]},"axis":null},"text":{"field":"t"}}},
{"data":{"values":[{"x":-5.69,"y":4.1,"t":"Corresponds to Qvalue = 0.01"}]},"mark":{"type":"text","font":"Liberation Sans","align":"left","baseline":"alphabetic","fontSize":12.5,"color":"#333a55"},"encoding":{"x":{"field":"x","type":"quantitative","scale":{"domain":[-5.87,5.89]},"axis":null},"y":{"field":"y","type":"quantitative","scale":{"domain":[0,300]},"axis":null},"text":{"field":"t"}}}
]}
